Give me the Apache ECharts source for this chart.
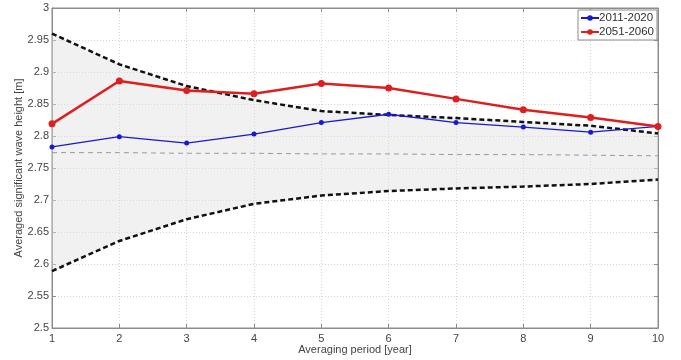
<!DOCTYPE html>
<html>
<head>
<meta charset="utf-8">
<script src="https://cdn.jsdelivr.net/npm/echarts@6/dist/echarts.min.js"></script>
<style>
  html, body { margin: 0; padding: 0; background: #fff; }
  #chart { width: 681px; height: 360px; }
</style>
</head>
<body>
<div id="chart"></div>
<script>
// Averaging period in years
const periods = ['1', '2', '3', '4', '5', '6', '7', '8', '9', '10'];
// Averaged significant wave height [m]
const hs2011 = [2.783, 2.799, 2.789, 2.803, 2.821, 2.834, 2.821, 2.814, 2.806, 2.815];
const hs2051 = [2.819, 2.886, 2.871, 2.866, 2.882, 2.875, 2.858, 2.841, 2.829, 2.815];
// Envelope of natural variability
const upperBound = [2.960, 2.912, 2.878, 2.856, 2.839, 2.833, 2.828, 2.822, 2.816, 2.804];
const lowerBound = [2.589, 2.636, 2.670, 2.694, 2.707, 2.714, 2.718, 2.721, 2.725, 2.732];
// Long-term mean
const meanLine = [2.774, 2.774, 2.773, 2.773, 2.772, 2.772, 2.771, 2.771, 2.770, 2.769];

// Band thickness stacked on top of the lower bound
const bandWidth = upperBound.map((u, i) => +(u - lowerBound[i]).toFixed(4));

const fontFam = '"Liberation Sans", Arial, sans-serif';
const axisGrey = '#8c8c8c';
const textGrey = '#444';
const gridLine = { show: true, lineStyle: { color: '#d4d4d4', type: [1, 2], width: 1 } };
const innerTick = { show: true, inside: true, length: 4, lineStyle: { color: axisGrey } };

const chart = echarts.init(document.getElementById('chart'));
chart.setOption({
  animation: false,
  backgroundColor: '#fff',
  textStyle: { fontFamily: fontFam },
  grid: {
    left: 52, right: 23, top: 8, bottom: 32,
    outerBoundsMode: 'none', containLabel: false,
    show: true, borderColor: axisGrey, borderWidth: 1, backgroundColor: '#fff'
  },
  legend: {
    right: 24, top: 10,
    orient: 'vertical',
    itemGap: 2,
    itemWidth: 18, itemHeight: 7,
    padding: [2, 3, 2, 2],
    borderColor: axisGrey, borderWidth: 1, borderRadius: 0,
    backgroundColor: '#fff',
    textStyle: { fontSize: 11.5, color: '#333', fontFamily: fontFam, padding: [0, 0, 0, -5] },
    data: ['2011-2020', '2051-2060']
  },
  xAxis: [{
    type: 'category', data: periods, boundaryGap: false,
    name: 'Averaging period [year]', nameLocation: 'middle', nameGap: 16, nameMoveOverlap: false,
    nameTextStyle: { fontSize: 11, color: textGrey },
    axisLine: { show: true, lineStyle: { color: axisGrey } },
    axisTick: { ...innerTick, alignWithLabel: true },
    axisLabel: { fontSize: 11, color: textGrey, margin: 5 },
    splitLine: gridLine
  }, {
    type: 'category', data: periods, boundaryGap: false, position: 'top',
    axisLine: { show: true, lineStyle: { color: axisGrey } },
    axisTick: innerTick,
    axisLabel: { show: false }, splitLine: { show: false }
  }],
  yAxis: [{
    type: 'value', min: 2.5, max: 3, interval: 0.05,
    name: 'Averaged significant wave height [m]', nameLocation: 'middle', nameGap: 28, nameMoveOverlap: false,
    nameTextStyle: { fontSize: 11, color: textGrey },
    axisLine: { show: true, lineStyle: { color: axisGrey } },
    axisTick: innerTick,
    axisLabel: { fontSize: 11, color: textGrey, margin: 3, formatter: v => String(+v.toFixed(2)) },
    splitLine: gridLine
  }, {
    type: 'value', min: 2.5, max: 3, interval: 0.05, position: 'right',
    axisLine: { show: true, lineStyle: { color: axisGrey } },
    axisTick: innerTick,
    axisLabel: { show: false }, splitLine: { show: false }
  }],
  series: [
    {
      name: 'lowerBase', type: 'line', stack: 'band', data: lowerBound,
      symbol: 'none', lineStyle: { width: 0 }, areaStyle: { opacity: 0 }, silent: true, z: 1
    },
    {
      name: 'band', type: 'line', stack: 'band', data: bandWidth,
      symbol: 'none', lineStyle: { width: 0 }, areaStyle: { color: 'rgba(225,225,225,0.45)', opacity: 1 }, silent: true, z: 1
    },
    {
      name: 'mean', type: 'line', data: meanLine, symbol: 'none',
      lineStyle: { color: '#9a9a9a', width: 1, type: [5, 4] }, z: 2
    },
    {
      name: 'upper', type: 'line', data: upperBound, symbol: 'none',
      lineStyle: { color: '#111', width: 2.5, type: [5, 3] }, z: 3
    },
    {
      name: 'lower', type: 'line', data: lowerBound, symbol: 'none',
      lineStyle: { color: '#111', width: 2.5, type: [5, 3] }, z: 3
    },
    {
      name: '2011-2020', type: 'line', data: hs2011,
      symbol: 'circle', symbolSize: 5,
      itemStyle: { color: '#1a1acc' },
      lineStyle: { color: '#1a1acc', width: 1.3 }, z: 4
    },
    {
      name: '2051-2060', type: 'line', data: hs2051,
      symbol: 'circle', symbolSize: 7,
      itemStyle: { color: '#dd1f1f' },
      lineStyle: { color: '#dd1f1f', width: 2.5 }, z: 5
    }
  ]
});
</script>
</body>
</html>
